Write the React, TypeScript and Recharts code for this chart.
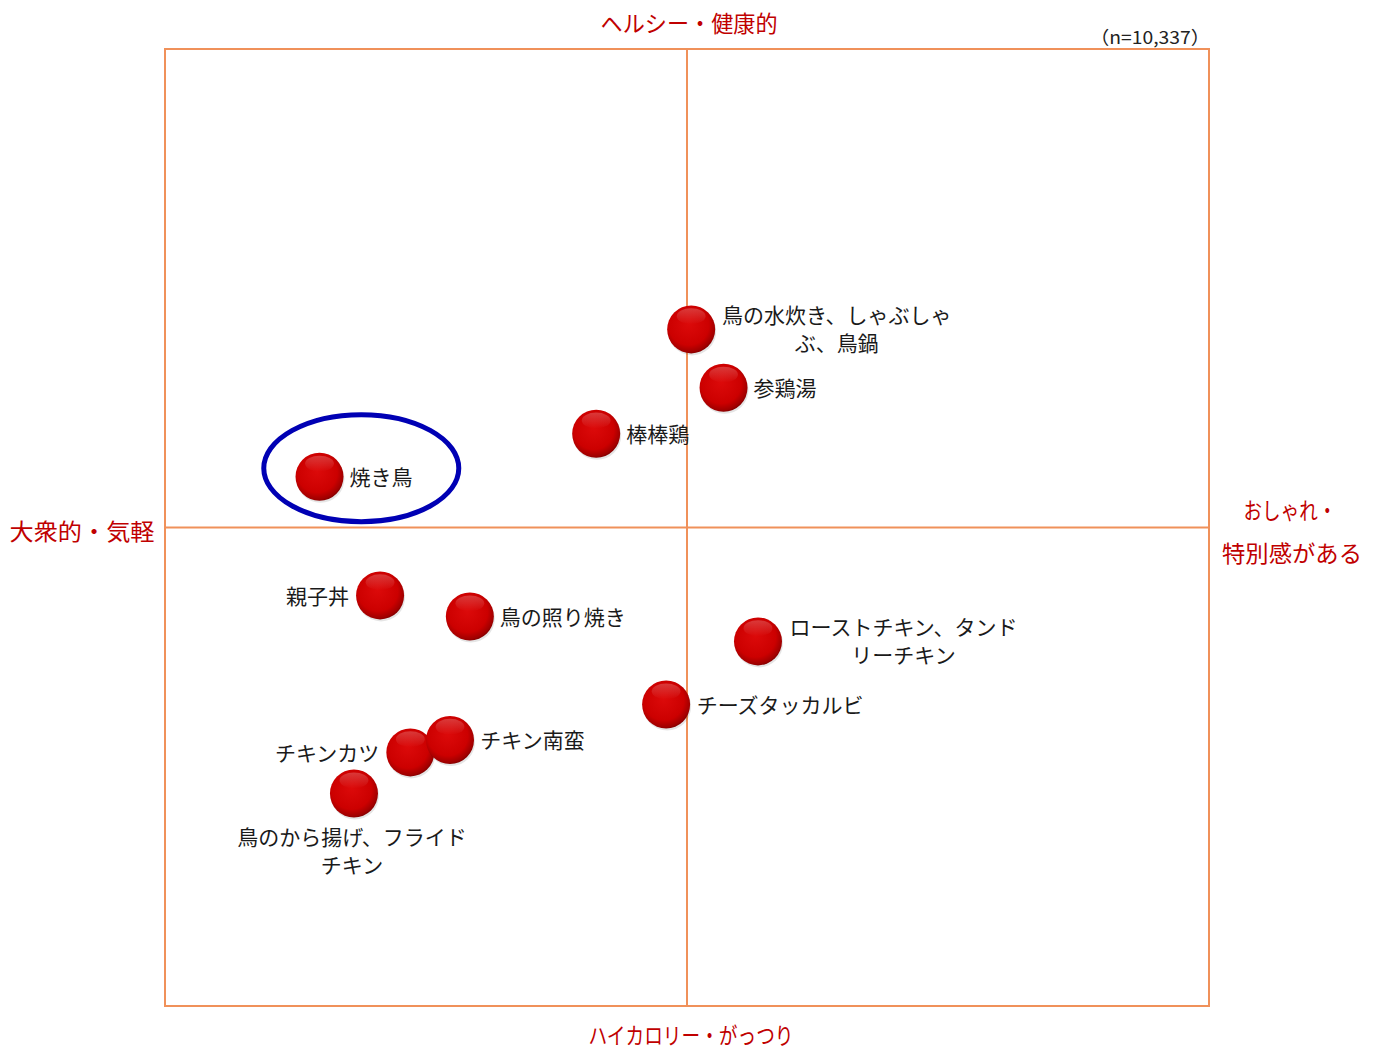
import React from "react";
import {
  ScatterChart,
  Scatter,
  XAxis,
  YAxis,
  ReferenceLine,
  ReferenceArea,
  ReferenceDot,
  Customized,
} from "recharts";

// ---- data ----
const itemNames: string[][] = [
  ["鳥の水炊き、しゃぶしゃ", "ぶ、鳥鍋"],
  ["参鶏湯"],
  ["棒棒鶏"],
  ["焼き鳥"],
  ["親子丼"],
  ["鳥の照り焼き"],
  ["ローストチキン、タンド", "リーチキン"],
  ["チーズタッカルビ"],
  ["チキンカツ"],
  ["チキン南蛮"],
  ["鳥のから揚げ、フライド", "チキン"],
];
const xValues = [0.4, 3.5, -8.7, -35.2, -29.4, -20.8, 6.8, -2.0, -26.5, -22.7, -31.9];
const yValues = [20.7, 14.6, 9.8, 5.3, -7.1, -9.3, -11.9, -18.5, -23.5, -22.2, -27.8];
const labelSides = ["right", "right", "right", "right", "left", "right", "right", "right", "left", "right", "below"];

const axisTop = "ヘルシー・健康的";
const axisBottom = "ハイカロリー・がっつり";
const axisLeft = "大衆的・気軽";
const axisRight = ["おしゃれ・", "特別感がある"];
const sampleNote = "（n=10,337）";

const highlight = { x: -31.2, y: 6.2 };

const data = xValues.map((x, i) => ({
  x,
  y: yValues[i],
  lines: itemNames[i],
  side: labelSides[i],
}));

const FRAME = "#F0915A";
const RED_TEXT = "#C00000";
const FONT = "'Noto Sans CJK JP', 'Noto Sans', sans-serif";

const Sphere = (props: any) => {
  const { cx, cy, payload, index } = props;
  const r = 24;
  const id = `sph${index}`;
  const lines: string[] = payload.lines;
  const side: string = payload.side;
  const fs = 21;
  const lh = 28;
  let textEls: React.ReactNode = null;
  if (side === "right") {
    const widths = lines.map((l) => l.length * fs);
    const blockW = Math.max(...widths);
    const centerX = cx + 30 + blockW / 2;
    const startY = cy - 1 - ((lines.length - 1) * lh) / 2;
    textEls = lines.map((l, k) => (
      <text
        key={k}
        x={centerX}
        y={startY + k * lh}
        textAnchor="middle"
        dominantBaseline="central"
        fontSize={fs}
        fontFamily={FONT}
        fill="#1a1a1a"
      >
        {l}
      </text>
    ));
  } else if (side === "left") {
    textEls = (
      <text
        x={cx - 31}
        y={cy}
        textAnchor="end"
        dominantBaseline="central"
        fontSize={fs}
        fontFamily={FONT}
        fill="#1a1a1a"
      >
        {lines[0]}
      </text>
    );
  } else {
    textEls = lines.map((l, k) => (
      <text
        key={k}
        x={cx - 2}
        y={cy + 42 + k * lh}
        textAnchor="middle"
        dominantBaseline="central"
        fontSize={fs}
        fontFamily={FONT}
        fill="#1a1a1a"
      >
        {l}
      </text>
    ));
  }
  return (
    <g>
      <defs>
        <radialGradient id={id} cx="45%" cy="42%" r="60%" fx="45%" fy="38%">
          <stop offset="0%" stopColor="#dc0a0a" />
          <stop offset="70%" stopColor="#cc0000" />
          <stop offset="92%" stopColor="#a00000" />
          <stop offset="100%" stopColor="#7a0000" />
        </radialGradient>
        <linearGradient id={`${id}h`} x1="0" y1="0" x2="0" y2="1">
          <stop offset="0%" stopColor="#ffffff" stopOpacity={0.22} />
          <stop offset="100%" stopColor="#ffffff" stopOpacity={0} />
        </linearGradient>
      </defs>
      <circle cx={cx + 1} cy={cy + 2} r={r} fill="#000" opacity={0.1} />
      <circle cx={cx} cy={cy} r={r} fill={`url(#${id})`} />
      <ellipse cx={cx} cy={cy - r * 0.55} rx={r * 0.6} ry={r * 0.33} fill={`url(#${id}h)`} />
      {textEls}
    </g>
  );
};

const Annotations = () => (
  <g fontFamily={FONT}>
    <text x={689} y={22} textAnchor="middle" dominantBaseline="central" fontSize={23} fill={RED_TEXT} textLength={177} lengthAdjust="spacingAndGlyphs">
      {axisTop}
    </text>
    <text x={691} y={1034} textAnchor="middle" dominantBaseline="central" fontSize={23} fill={RED_TEXT} textLength={205} lengthAdjust="spacingAndGlyphs">
      {axisBottom}
    </text>
    <text x={82} y={530} textAnchor="middle" dominantBaseline="central" fontSize={23} fill={RED_TEXT} textLength={145} lengthAdjust="spacingAndGlyphs">
      {axisLeft}
    </text>
    <text x={1290} y={509} textAnchor="middle" dominantBaseline="central" fontSize={23} fill={RED_TEXT} textLength={93} lengthAdjust="spacingAndGlyphs">
      {axisRight[0]}
    </text>
    <text x={1292} y={552} textAnchor="middle" dominantBaseline="central" fontSize={23} fill={RED_TEXT} textLength={140} lengthAdjust="spacingAndGlyphs">
      {axisRight[1]}
    </text>
    <text x={1150} y={36} textAnchor="middle" dominantBaseline="central" fontSize={18} fill="#222" textLength={120} lengthAdjust="spacingAndGlyphs">
      {sampleNote}
    </text>
  </g>
);

export default function App() {
  return (
    <div style={{ position: "absolute", left: 0, top: 0, background: "#fff" }}>
      <ScatterChart
        width={1374}
        height={1051}
        margin={{ left: 165, right: 165, top: 49, bottom: 45 }}
      >
        <XAxis type="number" dataKey="x" domain={[-50, 50]} hide height={0} />
        <YAxis type="number" dataKey="y" domain={[-50, 50]} hide width={0} />
        <ReferenceArea
          x1={-50}
          x2={50}
          y1={-50}
          y2={50}
          fill="none"
          fillOpacity={0}
          stroke={FRAME}
          strokeWidth={2}
          strokeOpacity={1}
        />
        <ReferenceLine x={0} stroke={FRAME} strokeWidth={2} />
        <ReferenceLine y={0} stroke={FRAME} strokeWidth={2} />
        <ReferenceDot
          x={highlight.x}
          y={highlight.y}
          r={1}
          shape={(p: any) => (
            <ellipse cx={p.cx} cy={p.cy} rx={97.5} ry={53.5} fill="none" stroke="#0000B4" strokeWidth={5} />
          )}
        />
        <Scatter data={data} isAnimationActive={false} shape={Sphere} />
        <Customized component={Annotations} />
      </ScatterChart>
    </div>
  );
}
